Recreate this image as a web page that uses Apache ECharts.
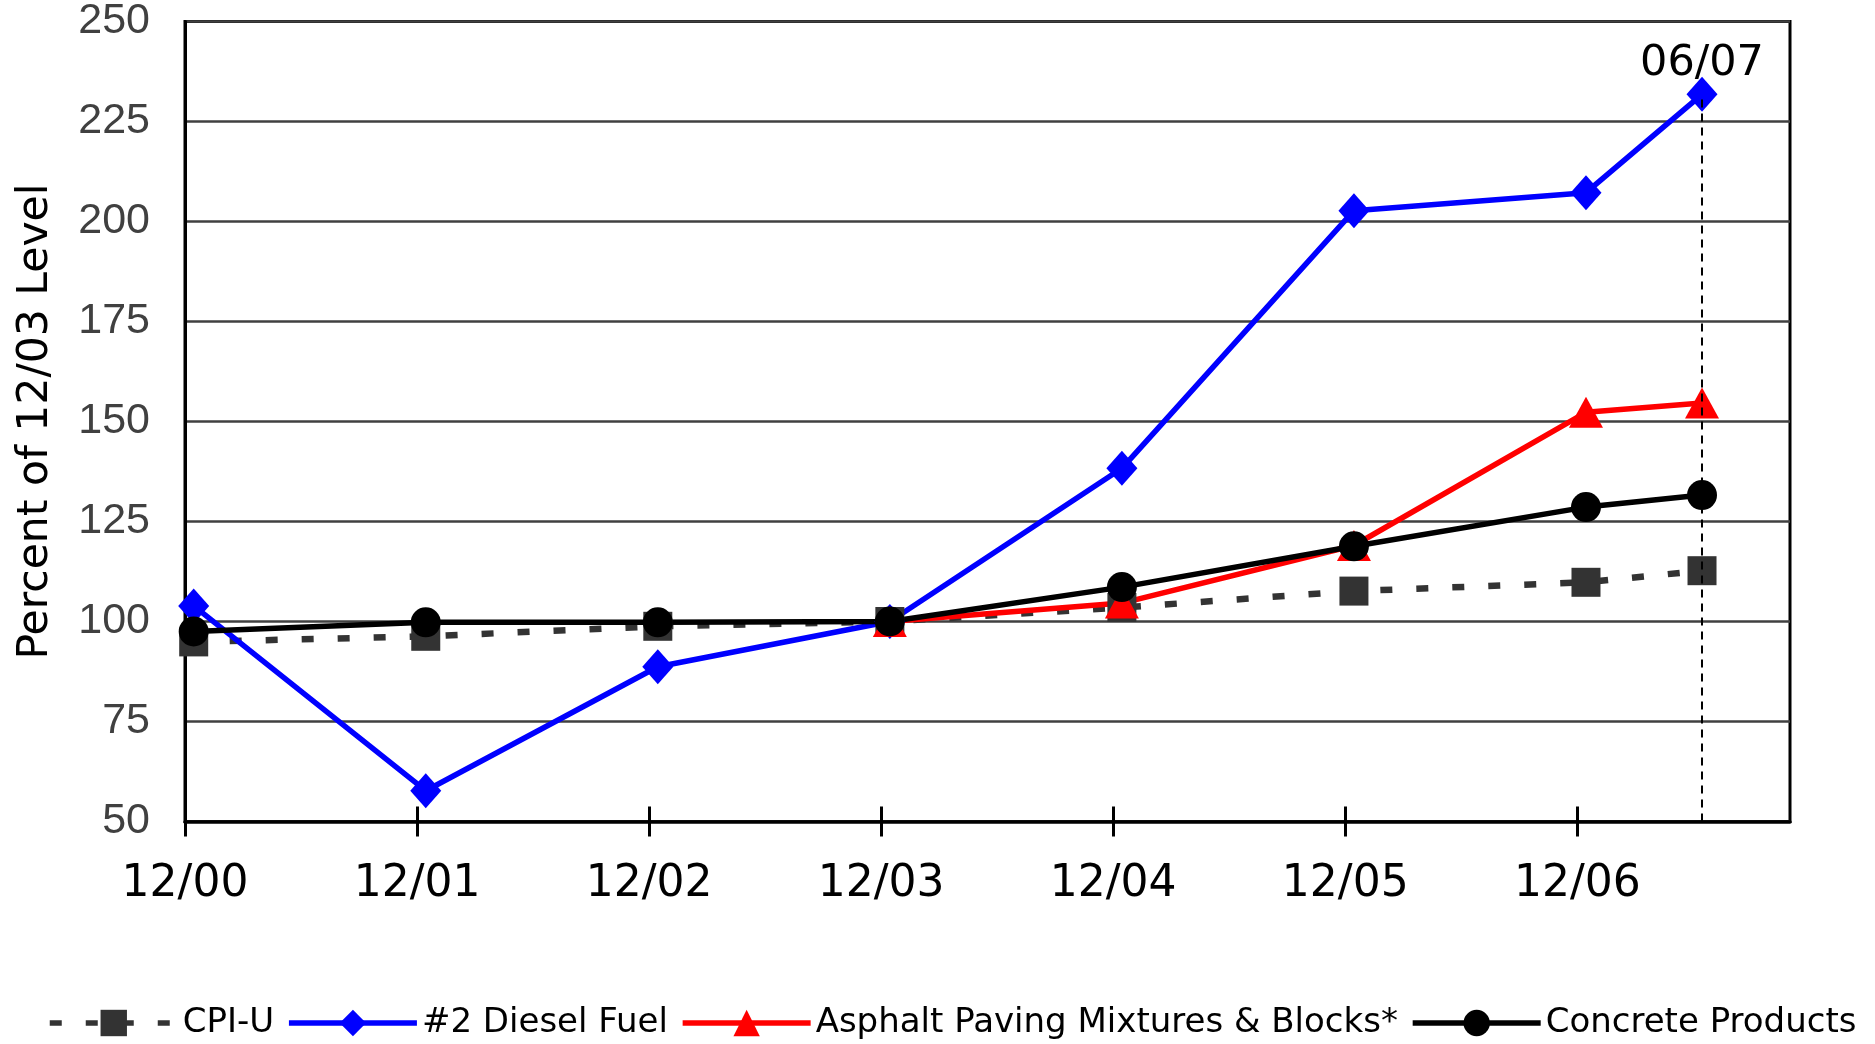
<!DOCTYPE html>
<html>
<head>
<meta charset="utf-8">
<title>Percent of 12/03 Level</title>
<script src="https://cdn.jsdelivr.net/npm/echarts@6/dist/echarts.min.js"></script>
<style>
  html, body { margin: 0; padding: 0; background: #ffffff; }
  #chart { width: 1875px; height: 1044px; }
</style>
</head>
<body>
<div id="chart"></div>
<script>
// Observation dates as months after December 2000 (mid-month readings)
const periods = ['12/00', '12/01', '12/02', '12/03', '12/04', '12/05', '12/06', '06/07'];
const monthOffsets = [0.45, 12.45, 24.45, 36.45, 48.45, 60.45, 72.45, 78.45];

// Year-end tick labels along the bottom axis
const tickLabels = ['12/00', '12/01', '12/02', '12/03', '12/04', '12/05', '12/06'];
const tickMonths = [0, 12, 24, 36, 48, 60, 72];

// Index values, percent of the 12/03 level
const cpiU = [94.9, 96.3, 98.8, 100, 103.5, 107.6, 109.8, 112.7];
const dieselFuel = [103.9, 57.7, 88.7, 100, 138.3, 202.7, 207.2, 231.8];
const asphaltPaving = [null, null, null, 100, 104.6, 119.0, 152.3, 154.6];
const concreteProducts = [97.5, 99.8, 99.8, 100, 108.6, 118.8, 128.6, 131.6];

const yTicks = [50, 75, 100, 125, 150, 175, 200, 225, 250];

function pairs(values) {
  const out = [];
  values.forEach((v, i) => { if (v !== null) out.push([monthOffsets[i], v]); });
  return out;
}

const latestIndex = periods.length - 1;

const chart = echarts.init(document.getElementById('chart'), null, { renderer: 'canvas' });

const xCommon = {
  type: 'value',
  min: 0,
  max: 83,
  interval: 12,
  position: 'bottom',
  splitLine: { show: false }
};

chart.setOption({
  animation: false,
  backgroundColor: '#ffffff',
  grid: {
    left: 185,
    right: 85,
    top: 21.5,
    bottom: 222.5,
    containLabel: false,
    show: true,
    borderColor: '#000000',
    borderWidth: 3,
    backgroundColor: 'transparent'
  },
  xAxis: [
    Object.assign({}, xCommon, {
      axisLine: { show: true, onZero: false, lineStyle: { color: '#000000', width: 3.5 } },
      axisTick: {
        show: true, inside: false, length: 15,
        customValues: tickMonths,
        lineStyle: { color: '#000000', width: 3 }
      },
      axisLabel: {
        show: true,
        customValues: tickMonths,
        margin: 41,
        color: '#000000',
        fontFamily: 'DejaVu Sans',
        fontSize: 44,
        formatter: v => {
          const i = tickMonths.indexOf(Math.round(v));
          return i >= 0 ? tickLabels[i] : '';
        }
      }
    }),
    Object.assign({}, xCommon, {
      axisLine: { show: false, onZero: false },
      axisTick: {
        show: true, inside: true, length: 15,
        customValues: tickMonths,
        lineStyle: { color: '#000000', width: 3 }
      },
      axisLabel: { show: false }
    })
  ],
  yAxis: {
    type: 'value',
    min: 50,
    max: 250,
    interval: 25,
    name: 'Percent of 12/03 Level',
    nameLocation: 'middle',
    nameGap: 128,
    nameRotate: 90,
    nameTextStyle: { color: '#000000', fontFamily: 'DejaVu Sans', fontSize: 42.5 },
    axisLine: { show: true, onZero: false, lineStyle: { color: '#000000', width: 3 } },
    axisTick: { show: false },
    axisLabel: {
      margin: 35,
      color: '#404040',
      fontFamily: 'Liberation Sans',
      fontSize: 43,
      formatter: v => (yTicks.indexOf(v) >= 0 ? String(v) : '')
    },
    splitLine: { show: true, lineStyle: { color: '#404040', width: 2.5 } }
  },
  legend: {
    left: 42,
    top: 1001,
    itemWidth: 128,
    itemHeight: 33,
    itemGap: 12,
    lineStyle: { width: 5.5 },
    textStyle: { color: '#000000', fontFamily: 'DejaVu Sans', fontSize: 34, padding: [0, 0, 0, 0] },
    data: ['CPI-U', '#2 Diesel Fuel', 'Asphalt Paving Mixtures & Blocks*', 'Concrete Products']
  },
  series: [
    {
      name: 'CPI-U',
      type: 'line',
      data: pairs(cpiU),
      symbol: 'rect',
      symbolSize: 29,
      itemStyle: { color: '#333333' },
      lineStyle: { color: '#333333', width: 6.5, type: [12, 24] }
    },
    {
      name: '#2 Diesel Fuel',
      type: 'line',
      data: pairs(dieselFuel),
      symbol: 'diamond',
      symbolSize: [31, 35],
      itemStyle: { color: '#0000ff' },
      lineStyle: { color: '#0000ff', width: 5.5 }
    },
    {
      name: 'Asphalt Paving Mixtures & Blocks*',
      type: 'line',
      data: pairs(asphaltPaving),
      symbol: 'triangle',
      symbolSize: [34, 31],
      itemStyle: { color: '#ff0000' },
      lineStyle: { color: '#ff0000', width: 5.5 }
    },
    {
      name: 'Concrete Products',
      type: 'line',
      data: pairs(concreteProducts),
      symbol: 'circle',
      symbolSize: 30,
      itemStyle: { color: '#000000' },
      lineStyle: { color: '#000000', width: 5.5 },
      markLine: {
        silent: true,
        symbol: ['none', 'none'],
        lineStyle: { color: '#000000', width: 2, type: [8, 6] },
        label: {
          show: true,
          position: 'end',
          distance: 9,
          color: '#000000',
          fontFamily: 'DejaVu Sans',
          fontSize: 43,
          formatter: periods[latestIndex]
        },
        data: [[
          { coord: [monthOffsets[latestIndex], 50] },
          { coord: [monthOffsets[latestIndex], dieselFuel[latestIndex]] }
        ]]
      }
    }
  ]
});
</script>
</body>
</html>
